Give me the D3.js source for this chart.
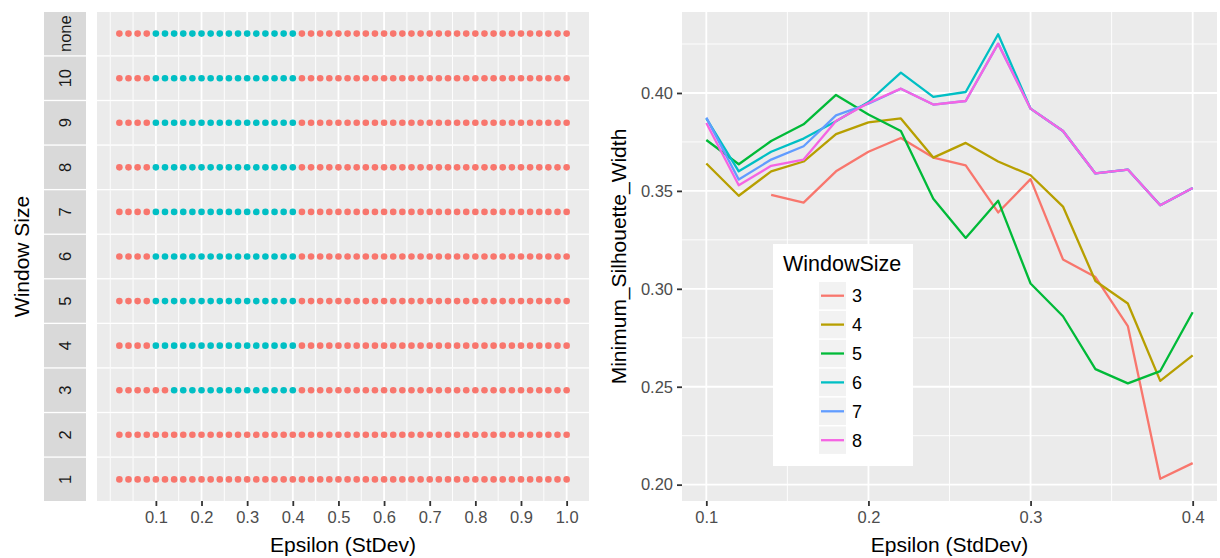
<!DOCTYPE html>
<html>
<head>
<meta charset="utf-8">
<script src="https://cdn.jsdelivr.net/npm/d3@7"></script>
<style>
    body { margin: 0; background: #fff; }
    svg text { font-family: "Liberation Sans", Arial, Helvetica, sans-serif; }
</style>
</head>
<body>
<div id="chart"></div>
<script>
// left panel: facet rows (top to bottom) and per-epsilon cluster flags (0 = red, 1 = cyan)
const windowRows = ["none", "10", "9", "8", "7", "6", "5", "4", "3", "2", "1"];
const epsilonGrid = [0.02, 0.04, 0.06, 0.08, 0.10, 0.12, 0.14, 0.16, 0.18, 0.20,
    0.22, 0.24, 0.26, 0.28, 0.30, 0.32, 0.34, 0.36, 0.38, 0.40,
    0.42, 0.44, 0.46, 0.48, 0.50, 0.52, 0.54, 0.56, 0.58, 0.60,
    0.62, 0.64, 0.66, 0.68, 0.70, 0.72, 0.74, 0.76, 0.78, 0.80,
    0.82, 0.84, 0.86, 0.88, 0.90, 0.92, 0.94, 0.96, 0.98, 1.00];
const clusterFlags = [
    "00001111111111111111000000000000000000000000000000", // none
    "00001111111111111111000000000000000000000000000000", // 10
    "00001111111111111111000000000000000000000000000000", // 9
    "00001111111111111111000000000000000000000000000000", // 8
    "00001111111111111111000000000000000000000000000000", // 7
    "00001111111111111111000000000000000000000000000000", // 6
    "00001111111111111111000000000000000000000000000000", // 5
    "00001111111111111111000000000000000000000000000000", // 4
    "00000011111111111111000000000000000000000000000000", // 3
    "00000000000000000000000000000000000000000000000000", // 2
    "00000000000000000000000000000000000000000000000000"  // 1
];
const leftTicks = [0.1, 0.2, 0.3, 0.4, 0.5, 0.6, 0.7, 0.8, 0.9, 1.0];
const leftMinor = [0.0, 0.05, 0.15, 0.25, 0.35, 0.45, 0.55, 0.65, 0.75, 0.85, 0.95];
const flagColors = ["#F8766D", "#00BFC4"];

// right panel: minimum silhouette width per window size
const epsilonLine = [0.10, 0.12, 0.14, 0.16, 0.18, 0.20, 0.22, 0.24, 0.26, 0.28, 0.30, 0.32, 0.34, 0.36, 0.38, 0.40];
const windowSizes = ["3", "4", "5", "6", "7", "8"];
const ws3 = [null, null, 0.348, 0.344, 0.360, 0.370, 0.377, 0.367, 0.363, 0.339, 0.356, 0.315, 0.306, 0.281, 0.203, 0.211];
const ws4 = [0.364, 0.3475, 0.360, 0.365, 0.379, 0.385, 0.387, 0.367, 0.3745, 0.365, 0.358, 0.342, 0.304, 0.2925, 0.253, 0.266];
const ws5 = [0.376, 0.3636, 0.3755, 0.384, 0.399, 0.389, 0.3806, 0.346, 0.326, 0.345, 0.3027, 0.286, 0.259, 0.2517, 0.258, 0.288];
const ws6 = [0.387, 0.360, 0.370, 0.3767, 0.3856, 0.3954, 0.4104, 0.398, 0.4005, 0.430, 0.392, 0.3806, 0.3589, 0.3609, 0.3427, 0.3515];
const ws7 = [0.3874, 0.3558, 0.366, 0.3728, 0.3886, 0.3945, 0.4022, 0.3941, 0.3959, 0.4252, 0.392, 0.3806, 0.3589, 0.3609, 0.3427, 0.3515];
const ws8 = [0.3847, 0.3529, 0.3628, 0.366, 0.3857, 0.3949, 0.4022, 0.3941, 0.3959, 0.4252, 0.392, 0.3806, 0.3589, 0.3609, 0.3427, 0.3515];
const seriesValues = [ws3, ws4, ws5, ws6, ws7, ws8];
const seriesColors = ["#F8766D", "#B79F00", "#00BA38", "#00BFC4", "#619CFF", "#F564E3"];
const rightXTicks = [0.1, 0.2, 0.3, 0.4];
const rightXMinor = [0.15, 0.25, 0.35];
const rightYTicks = [0.20, 0.25, 0.30, 0.35, 0.40];
const rightYMinor = [0.225, 0.275, 0.325, 0.375, 0.425];

const W = 1220, H = 558;
const panelBg = "#EBEBEB";
const stripBg = "#D9D9D9";
const tickColor = "#333333";
const tickText = "#4D4D4D";

const svg = d3.select("#chart").append("svg").attr("width", W).attr("height", H);

function expand(ext) {
    const pad = (ext[1] - ext[0]) * 0.05;
    return [ext[0] - pad, ext[1] + pad];
}

function styleAxis(g, size) {
    g.select(".domain").remove();
    g.selectAll(".tick line").attr("stroke", tickColor).attr("stroke-width", 1.8);
    g.selectAll(".tick text").attr("fill", tickText).style("font-size", `${size}px`);
}

// ---------- left: facet dot strip ----------
const L = { left: 97, right: 589, top: 12, bottom: 501 };
const xL = d3.scaleLinear().domain(expand(d3.extent(epsilonGrid))).range([L.left, L.right]);
const rowBand = d3.scaleBand().domain(windowRows).range([L.top, L.bottom]).paddingInner(0.03);

windowRows.forEach((row, i) => {
    const y0 = rowBand(row);
    const g = svg.append("g");
    g.append("rect").attr("x", L.left).attr("y", y0).attr("width", L.right - L.left)
        .attr("height", rowBand.bandwidth()).attr("fill", panelBg);
    leftMinor.forEach(v => {
        g.append("line").attr("x1", xL(v)).attr("x2", xL(v)).attr("y1", y0).attr("y2", y0 + rowBand.bandwidth())
            .attr("stroke", "#fff").attr("stroke-width", 0.9);
    });
    leftTicks.forEach(v => {
        g.append("line").attr("x1", xL(v)).attr("x2", xL(v)).attr("y1", y0).attr("y2", y0 + rowBand.bandwidth())
            .attr("stroke", "#fff").attr("stroke-width", 1.8);
    });
    const cy = y0 + rowBand.bandwidth() / 2;
    g.selectAll("circle").data(epsilonGrid).join("circle")
        .attr("cx", d => xL(d))
        .attr("cy", cy)
        .attr("r", 3.3)
        .attr("fill", (d, j) => flagColors[+clusterFlags[i][j]]);

    // strip on the left
    g.append("rect").attr("x", 44).attr("y", y0).attr("width", 42)
        .attr("height", rowBand.bandwidth()).attr("fill", stripBg);
    g.append("text")
        .attr("transform", `translate(${65 + 6},${cy}) rotate(-90)`)
        .attr("text-anchor", "middle")
        .attr("fill", "#1A1A1A")
        .style("font-size", "16.5px")
        .text(row);
});

const axL = svg.append("g").attr("transform", `translate(0,${L.bottom})`)
    .call(d3.axisBottom(xL).tickValues(leftTicks).tickFormat(d3.format(".1f")).tickSize(5).tickPadding(5));
styleAxis(axL, 16.5);

svg.append("text").attr("x", (L.left + L.right) / 2).attr("y", 552)
    .attr("text-anchor", "middle").style("font-size", "21px").text("Epsilon (StDev)");
svg.append("text").attr("transform", `translate(29,${(L.top + L.bottom) / 2}) rotate(-90)`)
    .attr("text-anchor", "middle").style("font-size", "21px").text("Window Size");

// ---------- right: line chart ----------
const R = { left: 682, right: 1217, top: 12, bottom: 501 };
const allVals = seriesValues.flat().filter(v => v != null);
const xR = d3.scaleLinear().domain(expand(d3.extent(epsilonLine))).range([R.left, R.right]);
const yR = d3.scaleLinear().domain(expand(d3.extent(allVals))).range([R.bottom, R.top]);

svg.append("rect").attr("x", R.left).attr("y", R.top).attr("width", R.right - R.left)
    .attr("height", R.bottom - R.top).attr("fill", panelBg);
const grid = svg.append("g");
rightYMinor.filter(v => v >= yR.domain()[0] && v <= yR.domain()[1]).forEach(v => {
    grid.append("line").attr("x1", R.left).attr("x2", R.right).attr("y1", yR(v)).attr("y2", yR(v))
        .attr("stroke", "#fff").attr("stroke-width", 0.9);
});
rightXMinor.forEach(v => {
    grid.append("line").attr("x1", xR(v)).attr("x2", xR(v)).attr("y1", R.top).attr("y2", R.bottom)
        .attr("stroke", "#fff").attr("stroke-width", 0.9);
});
rightYTicks.forEach(v => {
    grid.append("line").attr("x1", R.left).attr("x2", R.right).attr("y1", yR(v)).attr("y2", yR(v))
        .attr("stroke", "#fff").attr("stroke-width", 1.8);
});
rightXTicks.forEach(v => {
    grid.append("line").attr("x1", xR(v)).attr("x2", xR(v)).attr("y1", R.top).attr("y2", R.bottom)
        .attr("stroke", "#fff").attr("stroke-width", 1.8);
});

const line = d3.line()
    .defined(d => d[1] != null)
    .x(d => xR(d[0]))
    .y(d => yR(d[1]));

seriesValues.forEach((vals, i) => {
    svg.append("path")
        .datum(epsilonLine.map((e, j) => [e, vals[j]]))
        .attr("fill", "none")
        .attr("stroke", seriesColors[i])
        .attr("stroke-width", 2.3)
        .attr("stroke-linejoin", "round")
        .attr("d", line);
});

const axRx = svg.append("g").attr("transform", `translate(0,${R.bottom})`)
    .call(d3.axisBottom(xR).tickValues(rightXTicks).tickFormat(d3.format(".1f")).tickSize(5).tickPadding(5));
styleAxis(axRx, 16.5);
const axRy = svg.append("g").attr("transform", `translate(${R.left},0)`)
    .call(d3.axisLeft(yR).tickValues(rightYTicks).tickFormat(d3.format(".2f")).tickSize(5).tickPadding(4));
styleAxis(axRy, 16.5);

svg.append("text").attr("x", (R.left + R.right) / 2).attr("y", 552)
    .attr("text-anchor", "middle").style("font-size", "21px").text("Epsilon (StdDev)");
svg.append("text").attr("transform", `translate(626,${(R.top + R.bottom) / 2}) rotate(-90)`)
    .attr("text-anchor", "middle").style("font-size", "21px").text("Minimum_Silhouette_Width");

// legend
const legend = svg.append("g").attr("transform", "translate(773,244)");
legend.append("rect").attr("width", 140).attr("height", 222).attr("fill", "#fff");
legend.append("text").attr("x", 10).attr("y", 27).style("font-size", "21.5px").text("WindowSize");
const keyPitch = 28.9;
windowSizes.forEach((ws, i) => {
    const ky = 38 + i * keyPitch;
    legend.append("rect").attr("x", 46).attr("y", ky).attr("width", 27).attr("height", keyPitch - 1.5)
        .attr("fill", "#F2F2F2");
    legend.append("line").attr("x1", 48).attr("x2", 71)
        .attr("y1", ky + (keyPitch - 1.5) / 2).attr("y2", ky + (keyPitch - 1.5) / 2)
        .attr("stroke", seriesColors[i]).attr("stroke-width", 2.3);
    legend.append("text").attr("x", 79).attr("y", ky + (keyPitch - 1.5) / 2 + 6.5)
        .style("font-size", "18px").text(ws);
});
</script>
</body>
</html>
